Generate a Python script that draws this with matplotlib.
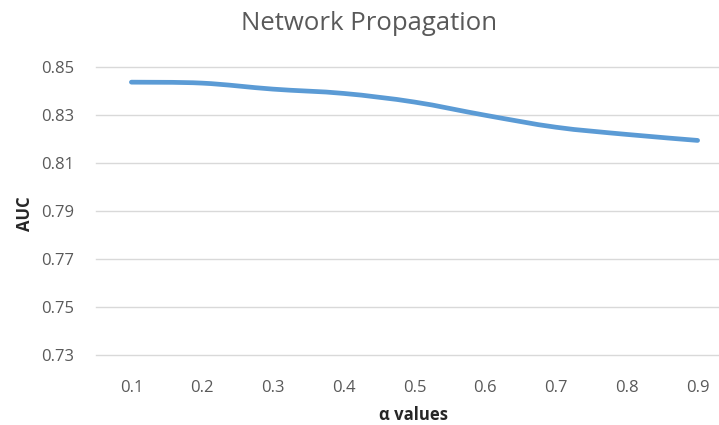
import matplotlib
matplotlib.use("Agg")
import matplotlib.pyplot as plt
from matplotlib.path import Path
from matplotlib.patches import PathPatch
import numpy as np

categories = ["0.1", "0.2", "0.3", "0.4", "0.5", "0.6", "0.7", "0.8", "0.9"]
auc = [0.8438, 0.8434, 0.8409, 0.8391, 0.8355, 0.8300, 0.8250, 0.8220, 0.8195]
yticks = [0.73, 0.75, 0.77, 0.79, 0.81, 0.83, 0.85]

W, H = 719, 425
fig = plt.figure(figsize=(W / 100, H / 100), dpi=100)
left, right = 96, 733
bottom, top = 355, 67.3
ax = fig.add_axes([left / W, (H - bottom) / H, (right - left) / W, (bottom - top) / H])

x = np.arange(len(categories))
y = np.array(auc)

# smoothed line (Catmull-Rom style Bezier through the data points)
verts = [(x[0], y[0])]
codes = [Path.MOVETO]
t = 1 / 6
for i in range(len(x) - 1):
    p0 = (x[i - 1], y[i - 1]) if i > 0 else (x[i], y[i])
    p1 = (x[i], y[i])
    p2 = (x[i + 1], y[i + 1])
    p3 = (x[i + 2], y[i + 2]) if i + 2 < len(x) else (x[i + 1], y[i + 1])
    c1 = (p1[0] + (p2[0] - p0[0]) * t, p1[1] + (p2[1] - p0[1]) * t)
    c2 = (p2[0] - (p3[0] - p1[0]) * t, p2[1] - (p3[1] - p1[1]) * t)
    verts += [c1, c2, p2]
    codes += [Path.CURVE4] * 3
patch = PathPatch(Path(verts, codes), facecolor="none", edgecolor="#5B9BD5",
                  linewidth=3.4, capstyle="round", joinstyle="round", zorder=3)
ax.add_patch(patch)

ax.set_xlim(-0.5, len(categories) - 0.5)
ax.set_ylim(0.73, 0.85)
ax.set_xticks(x)
ax.set_xticklabels(categories)
ax.set_yticks(yticks)
ax.set_yticklabels([f"{v:.2f}" for v in yticks])
ax.grid(axis="y", color="#D9D9D9", linewidth=1.0)
for gl in ax.get_ygridlines():
    gl.set_clip_on(False)
ax.set_axisbelow(True)
for s in ax.spines.values():
    s.set_visible(False)
ax.tick_params(length=0, labelsize=12, colors="#595959")
ax.tick_params(axis="y", pad=16)
ax.tick_params(axis="x", pad=18)
for lab in ax.get_xticklabels() + ax.get_yticklabels():
    lab.set_fontfamily("Open Sans")

fig.text(414 / W, 1 - 415 / H, "α values", ha="center", va="center", fontsize=12,
         fontweight="bold", color="#262626", fontfamily="Open Sans")
fig.text(24.5 / W, 1 - 214 / H, "AUC", ha="center", va="center", rotation=90,
         fontsize=12, fontweight="bold", color="#262626", fontfamily="Open Sans")

fig.text(369 / W, 1 - 23 / H, "Network Propagation", ha="center", va="center",
         fontsize=18.5, color="#595959", fontfamily="Open Sans")

fig.savefig("out.png", dpi=100)
